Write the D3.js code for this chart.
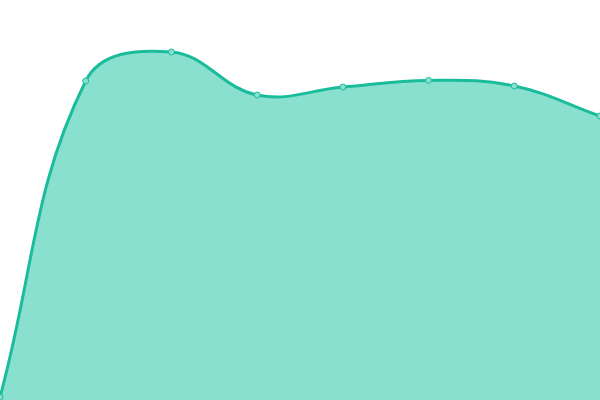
<!DOCTYPE html>
<html><head><meta charset="utf-8">
<script src="https://cdn.jsdelivr.net/npm/d3@7"></script>
<style>html,body{margin:0;padding:0;background:#fff;}svg{display:block;}</style>
</head><body>
<svg id="c" width="600" height="400"></svg>
<script>
const categories = ["1","2","3","4","5","6","7","8"];
const values = [0.7, 79.75, 87, 76.25, 78.25, 79.9, 78.5, 71];

const W = 600, H = 400;
const x = d3.scalePoint().domain(categories).range([0, W]);
const y = d3.scaleLinear().domain([0, 100]).range([H, 0]);
const svg = d3.select("#c");

const pts = categories.map((c, i) => ({x: x(c), y: y(values[i])}));
const t = 0.4;
pts.forEach((p, i) => {
  const prev = pts[i - 1] || p, next = pts[i + 1] || p;
  const d01 = Math.hypot(p.x - prev.x, p.y - prev.y);
  const d12 = Math.hypot(next.x - p.x, next.y - p.y);
  let s01 = d01 / (d01 + d12), s12 = d12 / (d01 + d12);
  if (!isFinite(s01)) s01 = 0; if (!isFinite(s12)) s12 = 0;
  const fa = t * s01, fb = t * s12;
  const cl = (v, a, b) => Math.max(a, Math.min(b, v));
  p.cpPx = cl(p.x - fa * (next.x - prev.x), 0, W);
  p.cpPy = cl(p.y - fa * (next.y - prev.y), 0, H);
  p.cpNx = cl(p.x + fb * (next.x - prev.x), 0, W);
  p.cpNy = cl(p.y + fb * (next.y - prev.y), 0, H);
});
function linePath(ctx) {
  ctx.moveTo(pts[0].x, pts[0].y);
  for (let i = 1; i < pts.length; i++) {
    const a = pts[i - 1], b = pts[i];
    ctx.bezierCurveTo(a.cpNx, a.cpNy, b.cpPx, b.cpPy, b.x, b.y);
  }
  return ctx;
}
const ap = linePath(d3.path());
ap.lineTo(pts[pts.length - 1].x, y(0));
ap.lineTo(pts[0].x, y(0));
ap.closePath();
svg.append("path").attr("d", ap.toString()).attr("fill", "#8ae0cf");
svg.append("path").attr("d", linePath(d3.path()).toString())
  .attr("fill", "none").attr("stroke", "#1abc9c").attr("stroke-width", 3);
svg.selectAll("circle").data(pts).join("circle")
  .attr("cx", d => d.x).attr("cy", d => d.y).attr("r", 3)
  .attr("fill", "#8ae0cf").attr("stroke", "#1abc9c").attr("stroke-width", 1);
</script>
</body></html>
